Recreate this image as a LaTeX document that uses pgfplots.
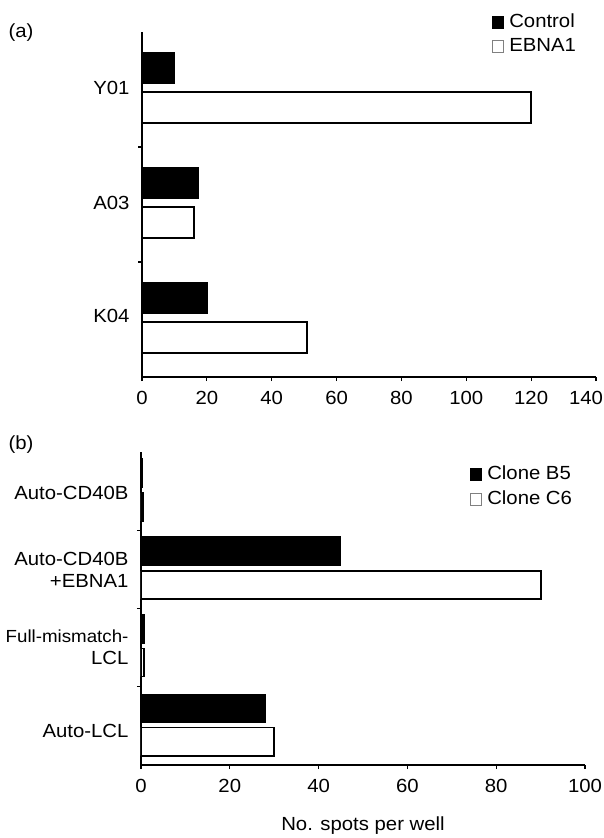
\documentclass[border=0pt]{standalone}
\usepackage{fontspec}
\setmainfont[FakeStretch=1.07]{Liberation Sans}
\usepackage{pgfplots}
\pgfplotsset{compat=1.18}
\newcommand{\fs}{\fontsize{19}{22}\selectfont}
\begin{document}
\fs
\begin{tikzpicture}
\path[use as bounding box] (0,0) rectangle (604pt,-838pt);
\pgfplotsset{
 common/.style={
  scale only axis, xbar, bar shift=0pt,
  axis x line*=bottom, axis y line*=left,
  axis line style={line width=1.5pt, -},
  y dir=reverse,
  tick style={black, line width=1.2pt},
  major tick length=4pt, tick align=outside,
  xtick pos=bottom, ytick pos=left,
  /pgf/number format/assume math mode=true,
  tick label style={font=\fs},
  yticklabel style={align=right, xshift=-6pt},
  xticklabel style={yshift=-4pt},
  extra y tick style={major tick length=0pt},
  legend cell align=left,
  legend style={draw=none, fill=none, font=\fs, row sep=4pt, inner sep=0pt},
 },
 blk/.style={fill=black, draw=black, line width=1.2pt},
 wht/.style={fill=white, draw=black, line width=1.8pt},
 limg/.style={legend image code/.code={\draw[fill=black,draw=black] (0pt,-6pt) rectangle (11pt,6pt); \path (15pt,0pt);}},
 limw/.style={legend image code/.code={\draw[fill=white,draw=gray,line width=0.6pt] (0pt,-6pt) rectangle (11pt,6pt); \path (15pt,0pt);}},
}
% ---------- panel (a)
\begin{axis}[common,
  at={(142pt,-377pt)}, anchor=south west,
  width=454pt, height=345pt,
  xmin=0, xmax=140, xtick={0,20,...,120},
  extra x ticks={140},
  extra x tick style={xticklabel style={xshift=-10pt}},
  ymin=0, ymax=3,
  ytick={1,2}, yticklabels={},
  extra y ticks={0.49,1.49,2.47},
  extra y tick labels={Y01,A03,K04},
  bar width=0.27,
  legend style={at={(0.77,1.058)}, anchor=north west},
]
\addlegendimage{limg}
\addlegendentry{Control}
\addlegendimage{limw}
\addlegendentry{EBNA1}
% Control
\addplot[blk, forget plot] coordinates {(10,0.315) (17.3,1.315) (20.3,2.315)};
% EBNA1
\addplot[wht, forget plot] coordinates {(120,0.655) (16,1.655) (51,2.655)};
\end{axis}
% ---------- panel (b)
\begin{axis}[common,
  at={(141pt,-765pt)}, anchor=south west,
  width=444pt, height=313pt,
  xmin=0, xmax=100, xtick={0,20,...,100},
  ymin=0, ymax=4,
  ytick={1,2,3}, yticklabels={},
  extra y ticks={0.52,1.51,2.5,3.56},
  extra y tick labels={Auto-CD40B,{Auto-CD40B\\+EBNA1},{{\fontsize{17.5}{22}\selectfont Full-mismatch-}\\LCL},Auto-LCL},
  bar width=0.36,
  xlabel={No. spots per well},
  xlabel style={at={(axis description cs:0.5,0)}, anchor=center, yshift=-61pt, font=\fs},
  legend style={at={(0.74,0.962)}, anchor=north west},
]
\addlegendimage{limg}
\addlegendentry{Clone B5}
\addlegendimage{limw}
\addlegendentry{Clone C6}
% Clone B5
\addplot[blk, forget plot] coordinates {(0.4,0.27) (45,1.265) (0.7,2.26) (28,3.278)};
% Clone C6
\addplot[wht, forget plot] coordinates {(0.4,0.70) (90,1.70) (0.7,2.69) (30,3.70)};
\end{axis}
\node at (21pt,-33pt) {(a)};
\node at (21pt,-445pt) {(b)};
\end{tikzpicture}
\end{document}
